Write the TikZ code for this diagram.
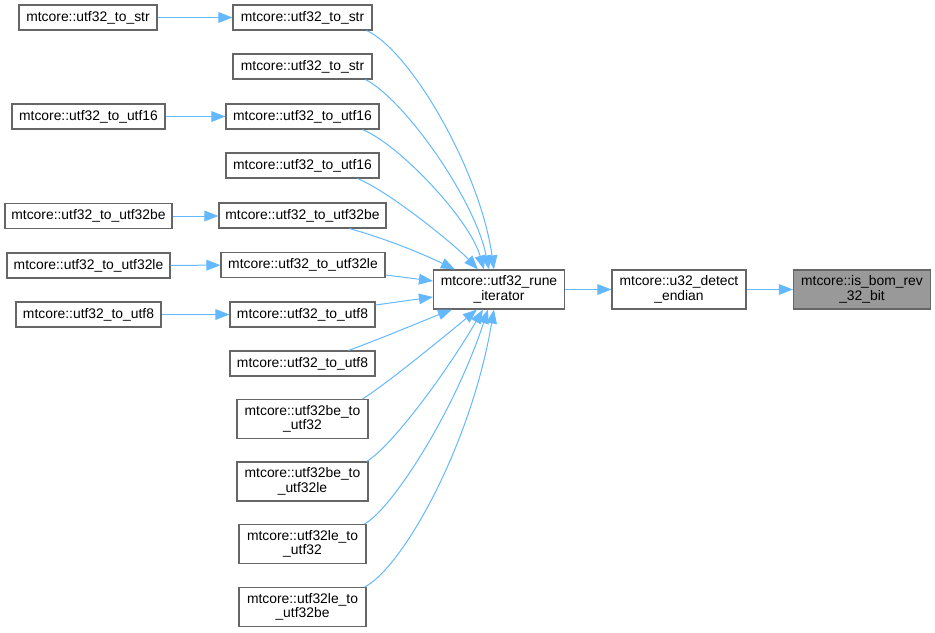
\documentclass[tikz,border=0pt]{standalone}
\usepackage{fontspec}
\setmainfont{Liberation Sans}
\usetikzlibrary{arrows.meta,calc}
\definecolor{edgeblue}{HTML}{63B8FF}
\definecolor{boxborder}{HTML}{666666}
\definecolor{hilite}{HTML}{999999}
\tikzset{
  fn/.style={draw=boxborder, line width=0.85pt, fill=white, rectangle, inner sep=0pt,
    align=center, font=\fontsize{10.4}{10.8}\selectfont, text=black},
  one/.style={fn, minimum height=18.75pt},
  two/.style={fn, minimum height=29.25pt},
  call/.style={draw=edgeblue, line width=0.75pt, -{Triangle[length=10.5pt,width=8pt]}},
}
\begin{document}
\begin{tikzpicture}[x=0.75pt,y=-0.75pt]
\useasboundingbox (0,0) rectangle (935,632);
% left column
\node[one, minimum width=103.5pt] (A1) at (88,17.5) {mtcore::utf32\_to\_str};
\node[one, minimum width=114.75pt] (A3) at (88.5,116.5) {mtcore::utf32\_to\_utf16};
\node[one, minimum width=125.25pt] (A5) at (88.5,216) {mtcore::utf32\_to\_utf32be};
\node[one, minimum width=122.25pt] (A6) at (88.5,265.5) {mtcore::utf32\_to\_utf32le};
\node[one, minimum width=108.75pt] (A7) at (88.5,314.5) {mtcore::utf32\_to\_utf8};
% middle column
\node[one, minimum width=104.25pt] (B1) at (302.5,17.5) {mtcore::utf32\_to\_str};
\node[one, minimum width=104.25pt] (B2) at (302.5,66.5) {mtcore::utf32\_to\_str};
\node[one, minimum width=114.75pt] (B3) at (302.5,116.5) {mtcore::utf32\_to\_utf16};
\node[one, minimum width=114.75pt] (B4) at (302.5,165.5) {mtcore::utf32\_to\_utf16};
\node[one, minimum width=125.25pt] (B5) at (302.5,215.5) {mtcore::utf32\_to\_utf32be};
\node[one, minimum width=123pt] (B6) at (303,265) {mtcore::utf32\_to\_utf32le};
\node[one, minimum width=108.75pt] (B7) at (302.5,314.5) {mtcore::utf32\_to\_utf8};
\node[one, minimum width=108.75pt] (B8) at (302.5,363.5) {mtcore::utf32\_to\_utf8};
\node[two, minimum width=98.25pt] (B9) at (302.5,419) {mtcore::utf32be\_to\\\_utf32};
\node[two, minimum width=98.25pt] (B10) at (302.5,481.5) {mtcore::utf32be\_to\\\_utf32le};
\node[two, minimum width=95.25pt] (B11) at (302.5,544) {mtcore::utf32le\_to\\\_utf32};
\node[two, minimum width=95.25pt] (B12) at (302.5,607) {mtcore::utf32le\_to\\\_utf32be};
% right part
\node[two, minimum width=98.25pt] (C) at (499,289.5) {mtcore::utf32\_rune\\\_iterator};
\node[two, minimum width=100.5pt] (D) at (679,289.5) {mtcore::u32\_detect\\\_endian};
\node[two, minimum width=102.75pt, fill=hilite] (E) at (862,289.5) {mtcore::is\_bom\_rev\\\_32\_bit};
% straight calls
\draw[call] (A1) -- (B1);
\draw[call] (A3) -- (B3);
\draw[call] (A5.east) -- (A5.east -| B5.west);
\draw[call] (A6) -- (B6);
\draw[call] (A7) -- (B7);
\draw[call] (C) -- (D);
\draw[call] (D) -- (E);
% calls into the rune iterator (top)
\draw[call] ($(B1.south east)+(-6,0)$) .. controls (410,50) and (480,170) .. ($(C.north west)+(61,0)$);
\draw[call] ($(B2.south east)+(-7,0)$) .. controls (405,100) and (475,200) .. ($(C.north west)+(56,0)$);
\draw[call] ($(B3.south east)+(-17,0)$) .. controls (400,145) and (470,220) .. ($(C.north west)+(51,0)$);
\draw[call] ($(B4.south east)+(-22,0)$) .. controls (390,192) and (455,245) .. ($(C.north west)+(45,0)$);
\draw[call] ($(B5.south east)+(-37,0)$) .. controls (390,240) and (425,255) .. ($(C.north west)+(22,0)$);
\draw[call] ($(B6.east)+(0,10)$) -- ($(C.west)+(0,-8.5)$);
\draw[call] ($(B7.east)+(0,-9.5)$) -- ($(C.west)+(0,7.5)$);
\draw[call] ($(B8.north east)+(-27,0)$) .. controls (390,335) and (425,320) .. ($(C.south west)+(19,0)$);
% calls into the rune iterator (bottom)
\draw[call] ($(B9.north east)+(-6,0)$) .. controls (385,385) and (440,340) .. ($(C.south west)+(44,0)$);
\draw[call] ($(B10.north east)+(-2,0)$) .. controls (390,448) and (445,375) .. ($(C.south west)+(50,0)$);
\draw[call] ($(B11.north east)+(-2,0)$) .. controls (393,508) and (455,410) .. ($(C.south west)+(55,0)$);
\draw[call] ($(B12.north east)+(-2,0)$) .. controls (400,570) and (470,450) .. ($(C.south west)+(61,0)$);
\end{tikzpicture}
\end{document}
